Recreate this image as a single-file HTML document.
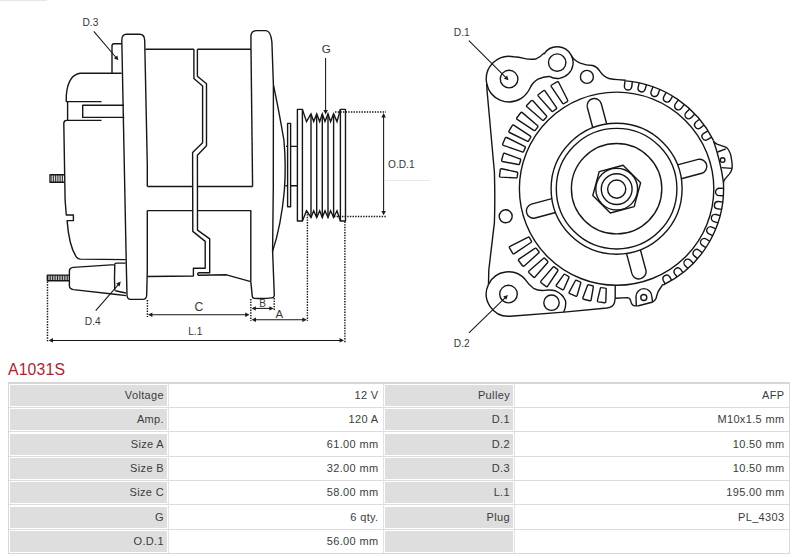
<!DOCTYPE html>
<html><head><meta charset="utf-8"><title>A1031S</title>
<style>
html,body{margin:0;padding:0;background:#fff;}
body{width:800px;height:558px;position:relative;overflow:hidden;font-family:"Liberation Sans",sans-serif;}
svg{position:absolute;left:0;top:0;}
svg text{font-family:"Liberation Sans",sans-serif;}
.title{position:absolute;left:8px;top:360.6px;font-size:15.8px;line-height:18px;color:#b01f30;letter-spacing:0.15px;}
.tbl{position:absolute;left:8px;top:382px;width:782px;height:172px;box-sizing:border-box;border:1px solid #d8d8d8;border-top:2px solid #d6d6d6;background:#fff;}
.g,.v{position:absolute;height:21px;box-sizing:border-box;font-size:11px;line-height:20.8px;text-align:right;color:#3c3c3c;white-space:nowrap;letter-spacing:0.35px;}
.g{background:#dedede;padding-right:3px;}
.v{padding-right:4.5px;}
.hl{position:absolute;left:9px;width:780px;height:1px;background:#dcdcdc;}
.vl{position:absolute;top:384px;width:1px;height:169px;background:#e2e2e2;}
</style></head><body>
<svg width="800" height="360" viewBox="0 0 800 360" fill="none" stroke="#161616" stroke-width="1.4" stroke-linejoin="round" stroke-linecap="butt">
<line x1="0" y1="0.5" x2="47" y2="0.5" stroke="#e6e6e6" stroke-width="1"/>
<path d="M126.5,34.3 L139.5,34.3 Q144.6,34.3 144.7,40.5 L147.3,165 L147.3,186.5 M147.3,210.6 L147.3,270 L146.7,295 Q146.5,299.4 142.8,299.4 L130.5,299.4 Q127.2,299.4 127,295 L126.3,265 L124.3,165 L121.8,40.5 Q121.8,34.3 126.5,34.3" />
<path d="M145.4,49.2 L193.9,49.2 M197.4,49.2 L251,49.2 M147.4,186.5 L192.6,186.5 M197.4,186.5 L252.6,186.5 M147.4,210.6 L192.7,210.6 M197.5,210.6 L250.8,210.6 L250.8,281.6" />
<path d="M147.4,276.5 L193.4,276 L193.4,268.3 L205.2,268.3 L205.2,241.4 L192.8,231.4 L192.6,152.4 L202.6,142.7 L202.6,86 L193.9,78.5 L193.9,49.2" />
<path d="M197.4,49.2 L197.4,76.2 L206.5,83.7 L206.5,145.8 L197.4,155.2 L197.5,230.1 L209.7,238.9 L209.7,272.8 L198.6,272.8 Q196.6,274 198.6,275.3 L226.5,274.8 L250.8,281.6" />
<path d="M121.6,43.8 L114,43.8 Q112,43.8 112,46 L112,73.2" />
<path d="M121.6,73.2 L80,73.2 Q68,75 66.3,95.3 L66.3,101.6 L101.5,101.6 M67.6,101.6 L67.6,120.4 M101.5,120.4 L66.5,120.4 Q63.8,120.6 63.8,123.5 L65.1,200 L66.3,215 L73.4,215 L73.4,220.6 L67.1,220.6 Q69,246 76.5,257.2 Q78,259 80.5,259.1 L125.6,259.6" />
<path d="M124,105.3 L82.7,105.3 L82.7,117.4 L124.3,117.4" />
<path d="M64.3,174.7 L50,174.7 L50,182.2 L64.5,182.2" />
<line x1="51.8" y1="174.7" x2="51.8" y2="182.2" stroke-width="0.9"/>
<line x1="53.6" y1="174.7" x2="53.6" y2="182.2" stroke-width="0.9"/>
<line x1="55.4" y1="174.7" x2="55.4" y2="182.2" stroke-width="0.9"/>
<line x1="57.2" y1="174.7" x2="57.2" y2="182.2" stroke-width="0.9"/>
<line x1="59.0" y1="174.7" x2="59.0" y2="182.2" stroke-width="0.9"/>
<line x1="60.8" y1="174.7" x2="60.8" y2="182.2" stroke-width="0.9"/>
<line x1="62.6" y1="174.7" x2="62.6" y2="182.2" stroke-width="0.9"/>
<path d="M69.4,275.1 L47.3,275.1 L47.3,280.8 L69.4,280.8" />
<line x1="49.0" y1="275.1" x2="49.0" y2="280.8" stroke-width="0.95"/>
<line x1="50.7" y1="275.1" x2="50.7" y2="280.8" stroke-width="0.95"/>
<line x1="52.4" y1="275.1" x2="52.4" y2="280.8" stroke-width="0.95"/>
<line x1="54.1" y1="275.1" x2="54.1" y2="280.8" stroke-width="0.95"/>
<line x1="55.8" y1="275.1" x2="55.8" y2="280.8" stroke-width="0.95"/>
<line x1="57.5" y1="275.1" x2="57.5" y2="280.8" stroke-width="0.95"/>
<line x1="59.2" y1="275.1" x2="59.2" y2="280.8" stroke-width="0.95"/>
<line x1="60.9" y1="275.1" x2="60.9" y2="280.8" stroke-width="0.95"/>
<line x1="62.6" y1="275.1" x2="62.6" y2="280.8" stroke-width="0.95"/>
<line x1="64.3" y1="275.1" x2="64.3" y2="280.8" stroke-width="0.95"/>
<line x1="66.0" y1="275.1" x2="66.0" y2="280.8" stroke-width="0.95"/>
<line x1="67.7" y1="275.1" x2="67.7" y2="280.8" stroke-width="0.95"/>
<path d="M114.8,264.6 L73.4,267.4 Q69.4,267.8 69.4,271 L69.4,285.8 Q69.4,289 73.4,289.6 L114.5,294.3 L126,295.6 M114.8,264.6 Q114.2,279 114.8,290.5 M114.8,264.6 Q114.8,263.1 116.3,263.1 L125.7,263.1 M115.2,290.8 L125.9,293" />
<path d="M251,49.2 L250.9,36.5 Q251,30.6 256.5,30.6 L266,30.6 Q270.8,30.9 271.9,42 Q272.6,62 273.4,85.3 L273.3,186 L272.6,251 L274.3,295.2 Q274.2,297.6 271.7,297.9 Q263,299 254.1,298.2 Q252.4,298 252.3,296.4 L250.8,281.6" />
<path d="M252.6,186.5 L251,49.2" />
<path d="M273.5,85.3 Q278.8,110 283.9,140 Q286.2,165 284.4,190 Q281.3,225 272.5,251.6" />
<path d="M287.6,123.4 L290.6,123.4 L290.6,206.7 L287.6,206.7 Z" />
<path d="M290.6,146.4 L297.1,146.4 M290.6,185.8 L297.1,185.8 M286,146.4 L287.6,146.4 M285.4,185.8 L287.6,185.8" />
<path d="M302.4,109.4 L297.4,109.4 L297.4,221 L302.4,221 Z" />
<path d="M340.4,109.4 L345.5,109.4 L345.5,221 L340.4,221 Z" />
<path d="M302.4,109.4 L306.5,121.6 L311.0,113.9 L313.7,121.6 L316.7,113.9 L319.7,121.6 L322.3,113.9 L325.0,121.6 L328.0,113.9 L330.6,121.6 L333.6,113.9 L337.0,121.6 L340.4,109.4" stroke-linejoin="miter"/>
<path d="M302.4,221 L306.5,210.8 L311.0,217.5 L313.7,210.8 L316.7,217.5 L319.7,210.8 L322.3,217.5 L325.0,210.8 L328.0,217.5 L330.6,210.8 L333.6,217.5 L337.0,210.8 L340.4,221" stroke-linejoin="miter"/>
<line x1="311.0" y1="113.9" x2="311.0" y2="217.5" />
<line x1="316.7" y1="113.9" x2="316.7" y2="217.5" />
<line x1="322.3" y1="113.9" x2="322.3" y2="217.5" />
<line x1="328.0" y1="113.9" x2="328.0" y2="217.5" />
<line x1="333.6" y1="113.9" x2="333.6" y2="217.5" />
<line x1="335.0" y1="112.0" x2="386.0" y2="112.0" stroke-dasharray="1.4 1.25" stroke-width="1.45"/>
<line x1="334.0" y1="216.4" x2="387.0" y2="216.4" stroke-dasharray="1.4 1.25" stroke-width="1.45"/>
<line x1="383.6" y1="116.0" x2="383.6" y2="212.0" stroke-width="1.05"/>
<polygon points="383.6,113.0 385.9,117.4 381.4,117.4" fill="#1a1a1a" stroke="none"/>
<polygon points="383.6,215.3 381.4,210.9 385.9,210.9" fill="#1a1a1a" stroke="none"/>
<text x="388.0" y="168.0" font-size="10.2" text-anchor="start" fill="#383838" stroke="none">O.D.1</text>
<line x1="385" y1="180.5" x2="430" y2="180.5" stroke="#e9e9e9" stroke-width="1"/>
<text x="321.8" y="53.3" font-size="11.6" text-anchor="start" fill="#383838" stroke="none">G</text>
<line x1="325.6" y1="58.0" x2="325.6" y2="110.0" stroke-width="1.05"/>
<polygon points="325.6,114.5 323.4,110.1 327.9,110.1" fill="#1a1a1a" stroke="none"/>
<text x="82.5" y="26.2" font-size="10.2" text-anchor="start" fill="#383838" stroke="none">D.3</text>
<line x1="93.8" y1="31.3" x2="116.5" y2="58.0" stroke-width="1.05"/>
<polygon points="118.4,60.2 113.8,58.3 117.3,55.4" fill="#1a1a1a" stroke="none"/>
<text x="84.8" y="325.4" font-size="10.2" text-anchor="start" fill="#383838" stroke="none">D.4</text>
<line x1="95.7" y1="310.6" x2="119.0" y2="283.8" stroke-width="1.05"/>
<polygon points="120.8,281.6 119.6,286.4 116.2,283.4" fill="#1a1a1a" stroke="none"/>
<line x1="47.5" y1="281.6" x2="47.5" y2="342.0" stroke-dasharray="1.4 1.25" stroke-width="1.45"/>
<line x1="147.4" y1="300.0" x2="147.4" y2="317.0" stroke-dasharray="1.4 1.25" stroke-width="1.45"/>
<line x1="250.8" y1="299.0" x2="250.8" y2="321.0" stroke-dasharray="1.4 1.25" stroke-width="1.45"/>
<line x1="274.2" y1="298.0" x2="274.2" y2="310.0" stroke-dasharray="1.4 1.25" stroke-width="1.45"/>
<line x1="307.4" y1="211.5" x2="307.4" y2="321.0" stroke-dasharray="1.4 1.25" stroke-width="1.45"/>
<line x1="344.9" y1="221.5" x2="344.9" y2="342.5" stroke-dasharray="1.4 1.25" stroke-width="1.45"/>
<line x1="151.0" y1="314.8" x2="246.0" y2="314.8" stroke-width="1.05"/>
<polygon points="148.0,314.8 152.4,312.6 152.4,317.1" fill="#1a1a1a" stroke="none"/>
<polygon points="249.6,314.8 245.2,317.1 245.2,312.6" fill="#1a1a1a" stroke="none"/>
<text x="194.4" y="311.1" font-size="12.2" text-anchor="start" fill="#383838" stroke="none">C</text>
<line x1="255.0" y1="308.4" x2="271.0" y2="308.4" stroke-width="1.05"/>
<polygon points="251.6,308.4 255.8,306.3 255.8,310.5" fill="#1a1a1a" stroke="none"/>
<polygon points="273.6,308.4 269.4,310.5 269.4,306.3" fill="#1a1a1a" stroke="none"/>
<text x="259.2" y="306.6" font-size="10" text-anchor="start" fill="#383838" stroke="none">B</text>
<line x1="255.0" y1="319.7" x2="303.0" y2="319.7" stroke-width="1.05"/>
<polygon points="251.6,319.7 256.0,317.4 256.0,321.9" fill="#1a1a1a" stroke="none"/>
<polygon points="306.8,319.7 302.4,321.9 302.4,317.4" fill="#1a1a1a" stroke="none"/>
<text x="275.4" y="318.3" font-size="11.4" text-anchor="start" fill="#383838" stroke="none">A</text>
<line x1="52.0" y1="340.4" x2="340.0" y2="340.4" stroke-width="1.05"/>
<polygon points="48.6,340.4 53.0,338.1 53.0,342.6" fill="#1a1a1a" stroke="none"/>
<polygon points="344.0,340.4 339.6,342.6 339.6,338.1" fill="#1a1a1a" stroke="none"/>
<text x="188.2" y="335.2" font-size="10.2" text-anchor="start" fill="#383838" stroke="none">L.1</text>
<circle cx="616.7" cy="189.1" r="9.1" />
<circle cx="616.7" cy="189.1" r="15.4" />
<circle cx="616.7" cy="189.1" r="20.9" />
<circle cx="616.6" cy="188.7" r="45.2" />
<circle cx="616.6" cy="188.7" r="60.3" />
<circle cx="616.6" cy="188.7" r="65.5" />
<ellipse cx="616.6" cy="188.7" rx="97.2" ry="96.6"/>
<path d="M640.6,182.7 L623.1,165.2 L599.2,171.6 L592.8,195.5 L610.3,213.0 L634.2,206.6 Z" />
<path d="M681.3,178.8 L701.8,173.3 A7.2,7.2 0 0 0 698.1,159.4 L677.6,164.9" />
<path d="M606.7,124.0 L601.2,103.5 A7.2,7.2 0 0 0 587.3,107.2 L592.8,127.7" />
<path d="M551.9,198.6 L531.4,204.1 A7.2,7.2 0 0 0 535.1,218.0 L555.6,212.5" />
<path d="M626.5,253.4 L632.0,273.9 A7.2,7.2 0 0 0 645.9,270.2 L640.4,249.7" />
<path d="M625.7,80.9 A108.2,108.2 0 0 1 713.4,140.4" />
<path d="M713.4,140.4 Q720.5,160.9 723.4,182.2" />
<path d="M723.4,182.2 A107.0,107.0 0 0 1 663.2,285.0" />
<path d="M632.3,81.6 L631.8,86.7 A3.7,3.7 0 0 1 624.4,85.8 L625.0,80.8" />
<path d="M646.4,84.7 L645.1,89.6 A3.7,3.7 0 0 1 638.0,87.8 L639.2,82.9" />
<path d="M659.8,89.5 L658.0,94.2 A3.7,3.7 0 0 1 651.1,91.5 L653.0,86.8" />
<path d="M672.6,96.1 L670.1,100.5 A3.7,3.7 0 0 1 663.7,96.9 L666.1,92.5" />
<path d="M684.3,104.3 L681.3,108.4 A3.7,3.7 0 0 1 675.4,103.9 L678.4,99.9" />
<path d="M694.9,114.0 L691.4,117.6 A3.7,3.7 0 0 1 686.1,112.4 L689.6,108.9" />
<path d="M704.1,125.0 L700.1,128.1 A3.7,3.7 0 0 1 695.6,122.3 L699.5,119.2" />
<path d="M711.7,137.2 L707.4,139.7 A3.7,3.7 0 0 1 703.7,133.3 L708.0,130.8" />
<path d="M723.4,195.8 L719.1,195.6 A3.7,3.7 0 0 1 719.4,188.2 L723.6,188.4" />
<path d="M721.6,209.4 L717.4,208.8 A3.7,3.7 0 0 1 718.6,201.5 L722.8,202.1" />
<path d="M718.0,222.8 L714.0,221.6 A3.7,3.7 0 0 1 716.1,214.5 L720.1,215.7" />
<path d="M712.8,235.6 L708.9,233.9 A3.7,3.7 0 0 1 711.9,227.1 L715.8,228.8" />
<path d="M705.9,247.6 L702.3,245.4 A3.7,3.7 0 0 1 706.2,239.0 L709.8,241.3" />
<path d="M697.6,258.6 L694.3,255.9 A3.7,3.7 0 0 1 699.0,250.2 L702.3,252.8" />
<path d="M687.9,268.4 L685.0,265.4 A3.7,3.7 0 0 1 690.4,260.3 L693.3,263.3" />
<path d="M677.1,277.0 L674.6,273.6 A3.7,3.7 0 0 1 680.5,269.2 L683.0,272.6" />
<path d="M665.2,284.0 L663.2,280.3 A3.7,3.7 0 0 1 669.6,276.7 L671.7,280.4" />
<path d="M713.2,141.3 Q715.5,143.6 717.6,144.4 L725.1,146.9 Q727.4,147.8 728.3,149.5 Q730.2,152.8 730.8,155.1 L732,162.6 Q732.4,166 732,168.9 Q731.2,171.8 729.5,173.9 L725.1,178.9 Q723.9,180.5 723.3,182.7" />
<path d="M717.6,152 L725.8,148.8 M721.4,167.6 L731.9,168.4" />
<circle cx="722.6" cy="160.1" r="2.3" />
<path d="M567.6,100.0 L558.6,82.3 Q558.0,81.3 557.0,81.9 L551.7,85.0 Q550.7,85.6 551.3,86.6 L562.5,103.1 Q563.1,104.1 564.1,103.5 L567.2,101.6 Q568.2,101.0 567.6,100.0 Z" />
<path d="M556.3,107.3 L545.0,90.9 Q544.3,90.0 543.4,90.7 L538.5,94.5 Q537.6,95.2 538.3,96.1 L551.6,111.0 Q552.3,111.9 553.2,111.2 L556.2,108.9 Q557.1,108.2 556.3,107.3 Z" />
<path d="M546.4,115.7 L532.9,100.8 Q532.1,100.0 531.2,100.8 L526.9,105.2 Q526.1,106.0 526.9,106.8 L542.2,120.0 Q543.0,120.8 543.8,120.0 L546.4,117.3 Q547.2,116.5 546.4,115.7 Z" />
<path d="M537.4,125.5 L522.3,112.6 Q521.4,111.9 520.7,112.8 L516.9,117.7 Q516.2,118.7 517.2,119.4 L533.8,130.3 Q534.8,131.0 535.4,130.1 L537.7,127.1 Q538.4,126.2 537.4,125.5 Z" />
<path d="M530.1,135.9 L513.7,125.1 Q512.7,124.6 512.2,125.6 L509.1,130.9 Q508.5,131.9 509.5,132.5 L527.2,141.1 Q528.2,141.7 528.7,140.7 L530.6,137.5 Q531.1,136.5 530.1,135.9 Z" />
<path d="M524.6,146.4 L506.7,137.5 Q505.7,137.0 505.2,138.1 L502.8,143.8 Q502.4,144.8 503.4,145.3 L522.2,151.9 Q523.3,152.3 523.7,151.3 L525.2,147.9 Q525.6,146.8 524.6,146.4 Z" />
<path d="M519.8,158.8 L504.8,153.3 Q503.6,153.0 503.3,154.1 L501.7,160.0 Q501.4,161.2 502.5,161.5 L518.2,164.5 Q519.3,164.8 519.6,163.7 L520.6,160.2 Q520.9,159.1 519.8,158.8 Z" />
<path d="M516.7,172.0 L501.6,168.7 Q500.5,168.5 500.3,169.6 L499.5,175.8 Q499.3,176.9 500.5,177.1 L515.9,177.9 Q517.0,178.1 517.2,176.9 L517.7,173.3 Q517.8,172.1 516.7,172.0 Z" />
<path d="M527.8,237.3 L510.0,246.3 Q509.0,246.9 509.5,247.9 L512.7,253.3 Q513.3,254.3 514.3,253.7 L530.9,242.5 Q531.9,241.9 531.3,240.9 L529.4,237.7 Q528.8,236.7 527.8,237.3 Z" />
<path d="M534.9,248.4 L518.9,259.2 Q518.0,259.9 518.7,260.8 L522.5,265.7 Q523.2,266.6 524.2,265.9 L538.5,253.1 Q539.5,252.4 538.8,251.5 L536.5,248.6 Q535.8,247.7 534.9,248.4 Z" />
<path d="M543.3,258.4 L529.0,271.1 Q528.2,271.9 529.0,272.7 L533.4,277.0 Q534.2,277.9 535.0,277.0 L547.5,262.7 Q548.3,261.8 547.5,261.0 L544.9,258.4 Q544.1,257.6 543.3,258.4 Z" />
<path d="M552.9,267.3 L540.9,281.1 Q540.2,282.0 541.1,282.7 L546.0,286.4 Q546.9,287.1 547.6,286.2 L557.7,271.0 Q558.4,270.1 557.5,269.4 L554.5,267.1 Q553.6,266.4 552.9,267.3 Z" />
<path d="M563.6,274.9 L556.4,285.0 Q555.8,285.9 556.8,286.5 L562.2,289.6 Q563.2,290.2 563.8,289.2 L568.8,277.9 Q569.4,276.9 568.4,276.3 L565.2,274.5 Q564.2,273.9 563.6,274.9 Z" />
<path d="M575.2,281.0 L569.2,292.2 Q568.8,293.3 569.9,293.7 L575.6,296.1 Q576.7,296.5 577.1,295.5 L580.7,283.3 Q581.2,282.3 580.1,281.8 L576.7,280.4 Q575.6,280.0 575.2,281.0 Z" />
<path d="M587.5,285.6 L582.9,297.8 Q582.6,298.9 583.8,299.2 L589.7,300.8 Q590.9,301.1 591.1,300.0 L593.3,287.2 Q593.6,286.1 592.5,285.8 L588.9,284.8 Q587.8,284.5 587.5,285.6 Z" />
<path d="M600.3,288.6 L597.4,300.6 Q597.3,301.7 598.4,301.9 L604.5,302.7 Q605.7,302.9 605.8,301.7 L606.2,289.4 Q606.4,288.2 605.2,288.1 L601.6,287.6 Q600.4,287.4 600.3,288.6 Z" />
<circle cx="505.7" cy="216.3" r="6.5" />
<circle cx="509.1" cy="79.1" r="8.8" />
<circle cx="508.5" cy="294.1" r="8.8" />
<circle cx="557.2" cy="62.6" r="8.7" />
<circle cx="586.9" cy="76.9" r="6.5" />
<circle cx="551.5" cy="302.7" r="7.7" />
<circle cx="643.8" cy="297.5" r="3.0" />
<path d="M486.7,83.5 A22.8,22.8 0 0 1 513.8,56.8 Q518.5,57.2 524,58.4 Q531,60 536.5,58.7 Q540.5,57 543.6,53.4 L544.1,53.8 A15.8,15.8 0 0 1 571.2,55.2 Q573.2,59.8 580.2,63.2 Q586,65.4 592.7,65.5 Q596.8,66.5 599.6,70.8 Q603.5,76.8 609,78.5 Q613,79.3 617.8,79.6 L625.8,80.3" />
<path d="M486.7,83.5 A22.8,22.8 0 0 0 521.2,98.4 Q527,94.5 530.2,87.7 Q533,82 538,79.2 Q544,76.3 549.8,76.55 L549.8,76.6 A15.8,15.8 0 0 0 571.2,55.2" />
<path d="M486.7,83.5 L487,90.2 L488.8,110 Q493,155 494.4,172 Q495.2,200 494.4,222.6 L488.8,270 L488.5,284.4" />
<path d="M488.5,284.4 A22.2,22.2 0 0 0 510.2,316.2 L563.9,312.1 L607,308 Q613,307.2 614.4,303 L615.2,298.2 L615.2,285.6" />
<path d="M488.5,284.4 A22.2,22.2 0 0 1 525.5,279.8 Q529.5,285.5 533.5,288.3 Q538,290.8 544,290.4 Q550,289.5 555.5,290.8 Q563,294 565.6,301 Q566.3,307 563.7,312.1" />
<path d="M615.2,298.2 L627.6,297.6 Q630.1,298 630.6,300.5 Q631,304 633.2,305.3 Q635.5,306.2 638.5,305.7 L652,302.3 Q655,301 656,298.5 Q657,294.5 658.2,291.5 L662.8,284.3" />
<path d="M636.3,305.9 L636,296.5 A7.9,7.9 0 0 1 651.8,296.5 L652.6,302.1" />
<text x="453.8" y="35.6" font-size="10.2" text-anchor="start" fill="#383838" stroke="none">D.1</text>
<line x1="468.9" y1="40.6" x2="506.2" y2="77.9" stroke-width="1.05"/>
<polygon points="508.6,80.3 503.9,78.8 507.1,75.6" fill="#1a1a1a" stroke="none"/>
<text x="453.8" y="346.6" font-size="10.2" text-anchor="start" fill="#383838" stroke="none">D.2</text>
<line x1="468.9" y1="332.9" x2="505.8" y2="297.1" stroke-width="1.05"/>
<polygon points="507.9,295.0 506.3,299.7 503.2,296.4" fill="#1a1a1a" stroke="none"/>
</svg>
<div class="title">A1031S</div>
<div class="tbl"></div>
<div class="g" style="left:10px;top:385.00px;width:157px">Voltage</div>
<div class="v" style="left:169px;top:385.00px;width:214px">12 V</div>
<div class="g" style="left:385px;top:385.00px;width:128px">Pulley</div>
<div class="v" style="left:515px;top:385.00px;width:274px">AFP</div>
<div class="hl" style="top:407.00px"></div>
<div class="g" style="left:10px;top:409.36px;width:157px">Amp.</div>
<div class="v" style="left:169px;top:409.36px;width:214px">120 A</div>
<div class="g" style="left:385px;top:409.36px;width:128px">D.1</div>
<div class="v" style="left:515px;top:409.36px;width:274px">M10x1.5 mm</div>
<div class="hl" style="top:431.36px"></div>
<div class="g" style="left:10px;top:433.72px;width:157px">Size A</div>
<div class="v" style="left:169px;top:433.72px;width:214px">61.00 mm</div>
<div class="g" style="left:385px;top:433.72px;width:128px">D.2</div>
<div class="v" style="left:515px;top:433.72px;width:274px">10.50 mm</div>
<div class="hl" style="top:455.72px"></div>
<div class="g" style="left:10px;top:458.08px;width:157px">Size B</div>
<div class="v" style="left:169px;top:458.08px;width:214px">32.00 mm</div>
<div class="g" style="left:385px;top:458.08px;width:128px">D.3</div>
<div class="v" style="left:515px;top:458.08px;width:274px">10.50 mm</div>
<div class="hl" style="top:480.08px"></div>
<div class="g" style="left:10px;top:482.44px;width:157px">Size C</div>
<div class="v" style="left:169px;top:482.44px;width:214px">58.00 mm</div>
<div class="g" style="left:385px;top:482.44px;width:128px">L.1</div>
<div class="v" style="left:515px;top:482.44px;width:274px">195.00 mm</div>
<div class="hl" style="top:504.44px"></div>
<div class="g" style="left:10px;top:506.80px;width:157px">G</div>
<div class="v" style="left:169px;top:506.80px;width:214px">6 qty.</div>
<div class="g" style="left:385px;top:506.80px;width:128px">Plug</div>
<div class="v" style="left:515px;top:506.80px;width:274px">PL_4303</div>
<div class="hl" style="top:528.80px"></div>
<div class="g" style="left:10px;top:531.16px;width:157px">O.D.1</div>
<div class="v" style="left:169px;top:531.16px;width:214px">56.00 mm</div>
<div class="g" style="left:385px;top:531.16px;width:128px"></div>
<div class="v" style="left:515px;top:531.16px;width:274px"></div>
<div class="vl" style="left:168px"></div>
<div class="vl" style="left:383px"></div>
<div class="vl" style="left:514px"></div>
</body></html>
